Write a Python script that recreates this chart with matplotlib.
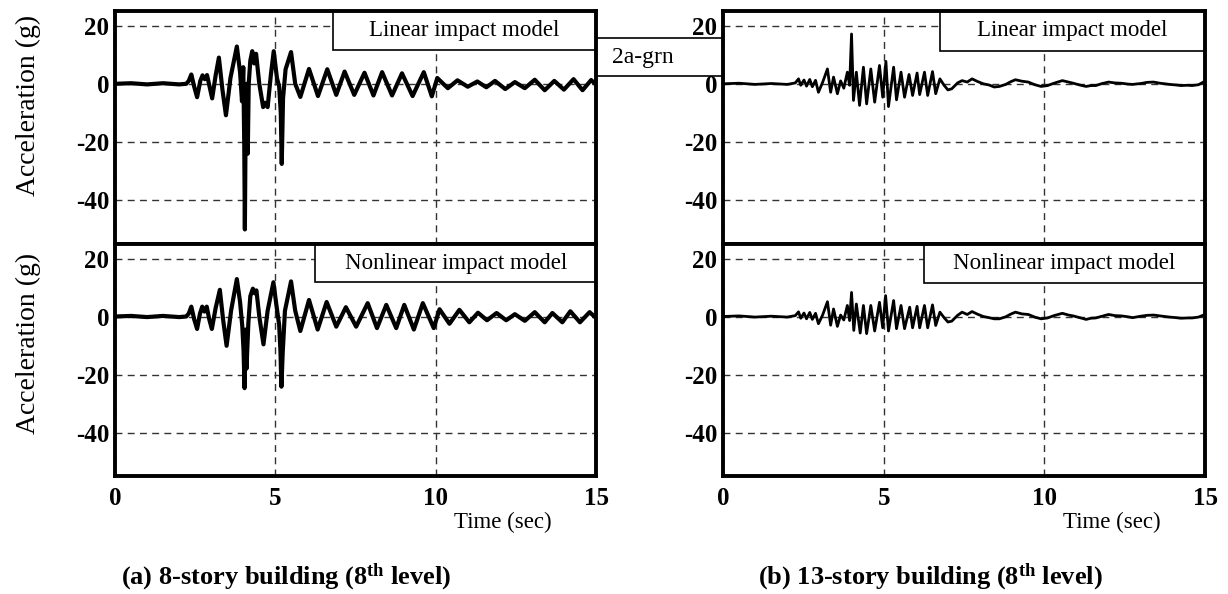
import numpy as np
import matplotlib
matplotlib.use('Agg')
import matplotlib.pyplot as plt
from matplotlib.patches import Rectangle

plt.rcParams['font.family'] = 'Liberation Serif'
plt.rcParams['axes.unicode_minus'] = False
plt.rcParams['mathtext.fontset'] = 'custom'
plt.rcParams['mathtext.rm'] = 'Liberation Serif'
plt.rcParams['mathtext.bf'] = 'Liberation Serif:bold'


# Acceleration histories (time in s, acceleration in g), peaks and troughs
acc_8story_linear = [
    (0.00, 0.0), (0.50, 0.2), (1.00, -0.2), (1.50, 0.2), (2.00, -0.2), (2.22, 0.0),
    (2.30, 1.0), (2.38, 3.2), (2.47, -1.0), (2.56, -4.6), (2.66, 1.0), (2.73, 2.9),
    (2.80, 1.6), (2.87, 3.0), (2.95, -1.0), (3.03, -5.0), (3.14, 3.0), (3.24, 9.0),
    (3.35, -2.0), (3.46, -10.8), (3.60, 2.0), (3.80, 12.8), (3.90, 4.0), (3.96, -6.0),
    (4.00, 5.7), (4.03, -20.0), (4.05, -50.0), (4.08, -5.0), (4.11, 0.0), (4.14, -24.0),
    (4.17, 0.0), (4.22, 8.0), (4.28, 11.2), (4.34, 7.0), (4.40, 10.3), (4.50, 0.0),
    (4.62, -8.0), (4.68, -6.5), (4.76, -8.0), (4.86, 3.0), (4.95, 11.2), (5.05, 2.0),
    (5.12, -1.0), (5.17, -10.0), (5.20, -27.5), (5.24, -5.0), (5.32, 5.0), (5.49, 10.9),
    (5.62, 0.0), (5.78, -4.5), (6.05, 5.1), (6.33, -4.2), (6.62, 5.0), (6.90, -3.8),
    (7.16, 4.2), (7.46, -3.8), (7.78, 3.8), (8.06, -4.0), (8.33, 4.0), (8.64, -4.0),
    (8.95, 3.6), (9.28, -4.2), (9.63, 4.0), (9.88, -4.3), (10.05, 2.0), (10.38, -1.5),
    (10.68, 1.2), (11.00, -1.0), (11.30, 0.8), (11.58, -1.2), (11.85, 1.0), (12.17, -1.8),
    (12.47, 0.6), (12.78, -1.5), (13.09, 1.4), (13.40, -2.2), (13.70, 1.0), (14.00, -2.0),
    (14.30, 1.6), (14.58, -2.2), (14.85, 1.3), (15.00, -0.3),
]

acc_8story_nonlinear = [
    (0.00, 0.0), (0.50, 0.2), (1.00, -0.2), (1.50, 0.2), (2.00, -0.2), (2.22, 0.0),
    (2.30, 1.0), (2.38, 3.4), (2.47, -1.0), (2.56, -4.3), (2.65, 1.0), (2.72, 3.4),
    (2.79, 1.7), (2.86, 3.4), (2.94, -1.0), (3.02, -4.3), (3.14, 3.0), (3.27, 9.2),
    (3.37, -1.0), (3.48, -10.1), (3.62, 2.0), (3.80, 12.9), (3.90, 5.0), (3.97, -3.4),
    (4.01, -12.0), (4.04, -24.7), (4.07, -4.5), (4.10, -18.0), (4.16, -2.0), (4.22, 7.0),
    (4.30, 9.6), (4.36, 8.0), (4.41, 9.0), (4.50, 0.0), (4.63, -9.6), (4.76, 2.0),
    (4.94, 11.8), (5.04, 3.4), (5.12, -3.0), (5.16, -12.0), (5.19, -24.2), (5.23, -12.4),
    (5.30, 2.0), (5.49, 12.1), (5.62, 2.0), (5.78, -5.0), (6.05, 5.7), (6.32, -4.5),
    (6.60, 5.0), (6.90, -3.5), (7.20, 3.2), (7.52, -3.5), (7.88, 4.6), (8.17, -4.0),
    (8.46, 4.0), (8.77, -4.0), (9.02, 4.0), (9.32, -4.5), (9.60, 4.6), (9.94, -4.0),
    (10.12, 2.5), (10.43, -2.5), (10.74, 2.3), (11.05, -2.0), (11.32, 1.3), (11.60, -1.3),
    (11.90, 1.2), (12.20, -1.3), (12.47, 0.8), (12.78, -1.5), (13.09, 1.5), (13.40, -2.0),
    (13.64, 1.2), (13.95, -2.0), (14.20, 1.8), (14.50, -2.0), (14.80, 1.5), (15.00, -0.5),
]

acc_13story_linear = [
    (0.00, 0.0), (0.50, 0.2), (1.00, -0.2), (1.50, 0.1), (2.00, -0.2), (2.25, 0.3),
    (2.35, 1.7), (2.42, -0.5), (2.52, 1.3), (2.60, -0.8), (2.70, 1.5), (2.78, -1.0),
    (2.88, 1.2), (2.97, -2.9), (3.10, 0.5), (3.25, 5.1), (3.35, -2.9), (3.44, 2.3),
    (3.56, -3.4), (3.66, 1.0), (3.76, -1.5), (3.87, 4.0), (3.94, -0.5), (4.00, 17.1),
    (4.06, -5.7), (4.15, 4.0), (4.25, -7.4), (4.37, 5.7), (4.47, -6.9), (4.60, 5.1),
    (4.72, -6.3), (4.87, 6.3), (4.97, -4.6), (5.07, 7.7), (5.15, -7.8), (5.31, 5.7),
    (5.40, -5.5), (5.54, 4.0), (5.65, -4.6), (5.79, 3.2), (5.90, -4.0), (6.04, 3.7),
    (6.12, -3.7), (6.27, 4.0), (6.37, -4.0), (6.52, 4.2), (6.62, -3.4), (6.75, 1.7),
    (6.88, -0.5), (7.00, -2.1), (7.12, -1.7), (7.30, 0.3), (7.44, 1.1), (7.60, 0.6),
    (7.75, 1.7), (7.92, 0.8), (8.10, 0.0), (8.28, -0.4), (8.44, -1.1), (8.60, -0.9),
    (8.80, -0.2), (8.95, 0.7), (9.10, 1.4), (9.30, 0.9), (9.50, 0.6), (9.70, -0.3),
    (9.90, -0.9), (10.10, -0.6), (10.30, 0.2), (10.56, 1.1), (10.75, 0.6), (10.90, 0.2),
    (11.10, -0.4), (11.30, -0.9), (11.45, -0.6), (11.60, -0.6), (11.80, 0.1), (12.00, 0.6),
    (12.20, 0.3), (12.40, 0.2), (12.60, -0.1), (12.75, -0.2), (13.00, 0.1), (13.20, 0.5),
    (13.40, 0.6), (13.60, 0.2), (13.90, -0.2), (14.10, -0.4), (14.25, -0.6), (14.45, -0.5),
    (14.60, -0.6), (14.80, -0.3), (15.00, 0.9),
]

acc_13story_nonlinear = [
    (0.00, 0.0), (0.50, 0.2), (1.00, -0.2), (1.50, 0.1), (2.00, -0.2), (2.25, 0.3),
    (2.35, 1.6), (2.42, -0.6), (2.52, 1.2), (2.60, -0.8), (2.70, 1.4), (2.78, -1.0),
    (2.88, 1.1), (2.97, -2.5), (3.10, 0.5), (3.25, 5.1), (3.35, -3.0), (3.44, 2.6),
    (3.56, -3.4), (3.66, 0.5), (3.76, -1.2), (3.87, 3.8), (3.94, -1.4), (4.00, 8.3),
    (4.07, -4.8), (4.15, 4.3), (4.27, -5.7), (4.37, 3.8), (4.47, -5.9), (4.60, 3.8),
    (4.72, -5.0), (4.87, 4.9), (4.97, -3.9), (5.06, 7.2), (5.15, -5.0), (5.31, 5.5),
    (5.40, -4.2), (5.54, 3.8), (5.65, -4.2), (5.81, 3.2), (5.90, -3.9), (6.04, 3.5),
    (6.12, -3.9), (6.27, 3.8), (6.37, -3.9), (6.52, 4.0), (6.62, -3.1), (6.75, 1.5),
    (6.88, -0.4), (7.00, -1.9), (7.12, -1.6), (7.30, 0.4), (7.44, 1.5), (7.60, 0.7),
    (7.75, 1.7), (7.92, 0.8), (8.10, 0.0), (8.28, -0.4), (8.44, -0.8), (8.60, -0.8),
    (8.80, -0.1), (8.95, 0.8), (9.10, 1.5), (9.30, 0.9), (9.50, 0.7), (9.70, -0.2),
    (9.90, -0.8), (10.10, -0.5), (10.30, 0.3), (10.56, 1.1), (10.75, 0.5), (10.90, 0.2),
    (11.10, -0.4), (11.30, -1.0), (11.45, -0.6), (11.60, -0.5), (11.80, 0.1), (12.00, 0.7),
    (12.20, 0.3), (12.40, 0.2), (12.60, -0.1), (12.75, -0.4), (13.00, 0.1), (13.20, 0.4),
    (13.40, 0.5), (13.60, 0.2), (13.90, -0.2), (14.10, -0.4), (14.25, -0.6), (14.45, -0.5),
    (14.60, -0.5), (14.80, -0.2), (15.00, 0.7),
]

x_ticks = [0, 5, 10, 15]
y_ticks = [-40, -20, 0, 20]
model_labels = ['Linear impact model', 'Nonlinear impact model']
subtitles = [r'(a) 8-story building ($\mathbf{8^{th}}$ level)',
             r'(b) 13-story building ($\mathbf{8^{th}}$ level)']
record_name = '2a-grn'

W, H = 1228, 594


def px_rect(x0, y0, x1, y1):
    # pixel box (top-left origin) -> figure fraction rect
    return [x0 / W, 1 - y1 / H, (x1 - x0) / W, (y1 - y0) / H]


def draw_panel(ax, series, lw, label, box_left, box_bottom, bottom_row):
    t, acc = np.array(series).T
    ax.plot(t, acc, color='black', lw=lw, solid_joinstyle='round', zorder=3)
    ax.set_xlim(0, 15)
    ax.set_ylim(-55, 25)
    ax.set_xticks(x_ticks)
    ax.set_yticks(y_ticks)
    ax.set_yticklabels([str(v) for v in y_ticks], fontweight='bold', fontsize=18)
    if bottom_row:
        ax.set_xticklabels([str(v) for v in x_ticks], fontweight='bold', fontsize=18)
        ax.text(12.1, -0.2, 'Time (sec)', transform=ax.get_xaxis_transform(),
                ha='center', va='center', fontsize=16.5)
    else:
        ax.set_xticklabels([])
    ax.tick_params(length=0)
    ax.tick_params(axis='y', pad=4)
    ax.tick_params(axis='x', pad=8)
    ax.grid(True, ls=(0, (5, 3.8)), color='0.2', lw=1.0, zorder=1)
    for s in ax.spines.values():
        s.set_linewidth(2.8)
        s.set_zorder(6)
    ax.add_patch(Rectangle((box_left, box_bottom), 15 - box_left, 25 - box_bottom,
                           facecolor='white', edgecolor='black', lw=1.2, zorder=4))
    ax.text((box_left + 15) / 2, (box_bottom + 25) / 2, label,
            ha='center', va='center', fontsize=16.5, zorder=5)


fig = plt.figure(figsize=(W / 100, H / 100), dpi=100)

ax_a1 = fig.add_axes(px_rect(115, 11, 596, 244))
ax_a2 = fig.add_axes(px_rect(115, 244, 596, 476))
ax_b1 = fig.add_axes(px_rect(723, 11, 1205, 244))
ax_b2 = fig.add_axes(px_rect(723, 244, 1205, 476))

draw_panel(ax_a1, acc_8story_linear, 3.0, model_labels[0], 6.8, 11.7, False)
draw_panel(ax_a2, acc_8story_nonlinear, 3.0, model_labels[1], 6.25, 11.8, True)
draw_panel(ax_b1, acc_13story_linear, 2.0, model_labels[0], 6.75, 11.4, False)
draw_panel(ax_b2, acc_13story_nonlinear, 2.0, model_labels[1], 6.25, 11.7, True)

# y labels on the left column
for yc in (105, 343):
    fig.text(28 / W, 1 - yc / H, 'Acceleration (g)', rotation=90,
             ha='center', va='center', fontsize=20)

# record name box between the columns
fig.add_artist(Rectangle((596 / W, 1 - 76 / H), 127 / W, 38 / H,
                         transform=fig.transFigure, facecolor='white',
                         edgecolor='black', lw=1.2, zorder=-1))
fig.text(643 / W, 1 - 58 / H, record_name, ha='center', va='center', fontsize=17)

fig.text(286 / W, 1 - 577 / H, subtitles[0], ha='center', va='center',
         fontsize=19, fontweight='bold')
fig.text(930 / W, 1 - 577 / H, subtitles[1], ha='center', va='center',
         fontsize=19, fontweight='bold')

fig.savefig('out.png', dpi=100)
